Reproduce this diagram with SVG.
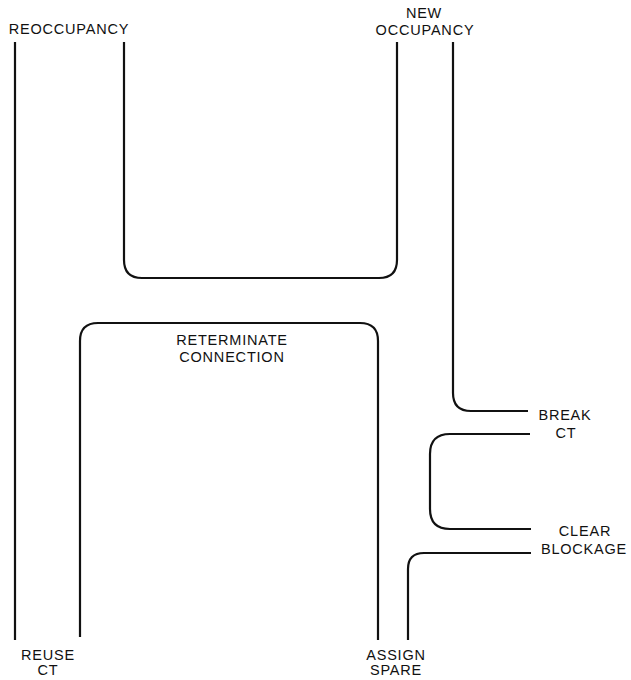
<svg xmlns="http://www.w3.org/2000/svg" width="631" height="680" viewBox="0 0 631 680">
<style>
.c{fill:none;stroke:#111;stroke-width:2.2;stroke-linecap:butt;stroke-linejoin:round}
.t{font-family:"Liberation Sans",Arial,sans-serif;font-size:14.5px;letter-spacing:0.8px;fill:#111;text-anchor:middle}
</style>
<rect width="631" height="680" fill="#fff"/>
<g id="connectors">
<path class="c" d="M15,42 V640"/>
<path class="c" d="M124,42 V260 Q124,278 142,278 H379 Q397,278 397,260 V42"/>
<path class="c" d="M453,42 V393 Q453,411 471,411 H528"/>
<path class="c" d="M530,434 H450 Q430,434 430,454 V509 Q430,529 450,529 H531"/>
<path class="c" d="M531,553 H424 Q408,553 408,569 V640"/>
<path class="c" d="M80,637 V341 Q80,323 98,323 H360 Q378,323 378,341 V640"/>
</g>
<g id="reoccupancy"><text class="t" x="69" y="34">REOCCUPANCY</text></g>
<g id="new-occupancy"><text class="t" x="424" y="18">NEW</text><text class="t" x="425" y="35">OCCUPANCY</text></g>
<g id="reterminate-connection"><text class="t" x="232" y="345">RETERMINATE</text><text class="t" x="232" y="362">CONNECTION</text></g>
<g id="break-ct"><text class="t" x="565" y="420">BREAK</text><text class="t" x="566" y="438">CT</text></g>
<g id="clear-blockage"><text class="t" x="585" y="536">CLEAR</text><text class="t" x="584" y="554">BLOCKAGE</text></g>
<g id="reuse-ct"><text class="t" x="48" y="660">REUSE</text><text class="t" x="48" y="675">CT</text></g>
<g id="assign-spare"><text class="t" x="396" y="660">ASSIGN</text><text class="t" x="396" y="675">SPARE</text></g>
</svg>
